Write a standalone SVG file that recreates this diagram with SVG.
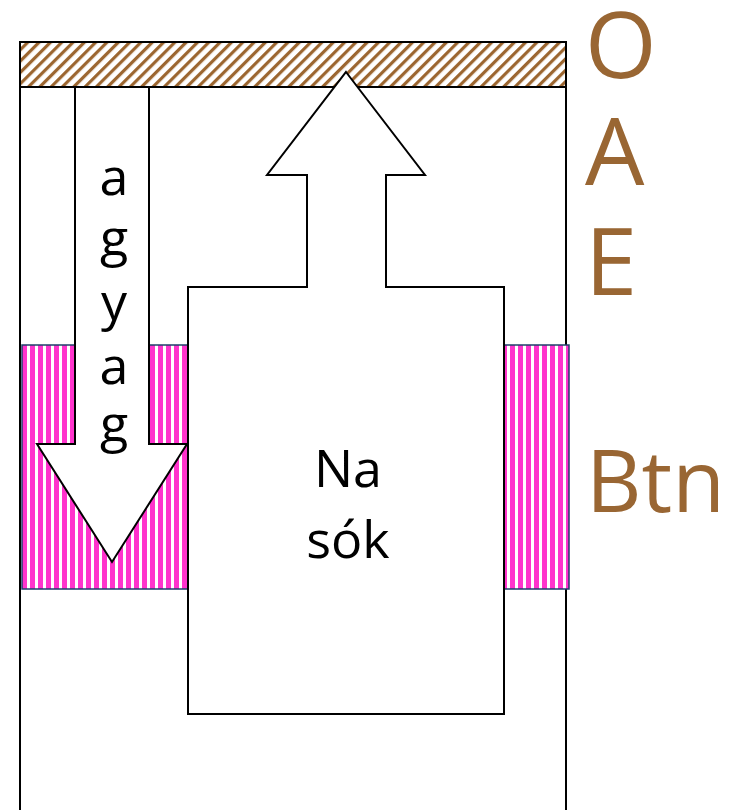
<svg xmlns="http://www.w3.org/2000/svg" width="742" height="810" viewBox="0 0 742 810">
  <defs>
    <pattern id="hatch" width="8" height="8" patternUnits="userSpaceOnUse" patternTransform="rotate(45)">
      <rect width="8" height="8" fill="#ffffff"/>
      <rect x="0" y="0" width="3.2" height="8" fill="#9c6630"/>
    </pattern>
    <pattern id="pinkStripes" width="8" height="8" patternUnits="userSpaceOnUse" x="22">
      <rect width="8" height="8" fill="#ffffff"/>
      <rect x="0" y="0" width="5" height="8" fill="#ff33cc"/>
    </pattern>
  </defs>
  <style>
    .frame { fill: none; stroke: #000; stroke-width: 2; }
    .shape { fill: #fff; stroke: #000; stroke-width: 2; stroke-linejoin: miter; }
    .pink { fill: url(#pinkStripes); stroke: #1f3f6b; stroke-width: 1.5; }
    .blk { font-family: "Open Sans", "Liberation Sans", sans-serif; fill: #000; font-size: 52px; text-anchor: middle; }
    .brn { font-family: "Open Sans", "Liberation Sans", sans-serif; fill: #996633; }
  </style>
  <rect width="742" height="810" fill="#fff"/>

  <g id="frame">
    <line class="frame" x1="20" y1="42" x2="20" y2="810"/>
    <line class="frame" x1="566" y1="42" x2="566" y2="810"/>
  </g>

  <g id="oae-layer">
    <rect x="20" y="42" width="546" height="45" fill="url(#hatch)" stroke="#000" stroke-width="2"/>
  </g>

  <g id="btn-layer">
    <rect class="pink" x="22" y="345" width="166" height="244"/>
    <rect class="pink" x="504" y="345" width="65" height="244"/>
  </g>

  <g id="connectors">
    <g id="agyag-arrow">
      <polygon class="shape" points="75,87 149,87 149,444 187,444 112,562 37,444 75,444"/>
      <text class="blk" x="114" y="195">a</text>
      <text class="blk" x="114" y="256">g</text>
      <text class="blk" x="114" y="320">y</text>
      <text class="blk" x="114" y="384">a</text>
      <text class="blk" x="114" y="442">g</text>
    </g>
  </g>

  <g id="na-sok">
    <polygon class="shape" points="346,72 425,175 386,175 386,287 504,287 504,714 188,714 188,287 307,287 307,175 267,175"/>
    <text class="blk" x="348" y="487" font-size="54">Na</text>
    <text class="blk" x="348" y="558" font-size="54">sók</text>
  </g>

  <g id="labels">
    <text class="brn" x="585" y="78" font-size="92">O</text>
    <text class="brn" x="585" y="185" font-size="94">A</text>
    <text class="brn" x="585" y="295" font-size="94">E</text>
    <text class="brn" x="586" y="512" font-size="86">Btn</text>
  </g>
</svg>
